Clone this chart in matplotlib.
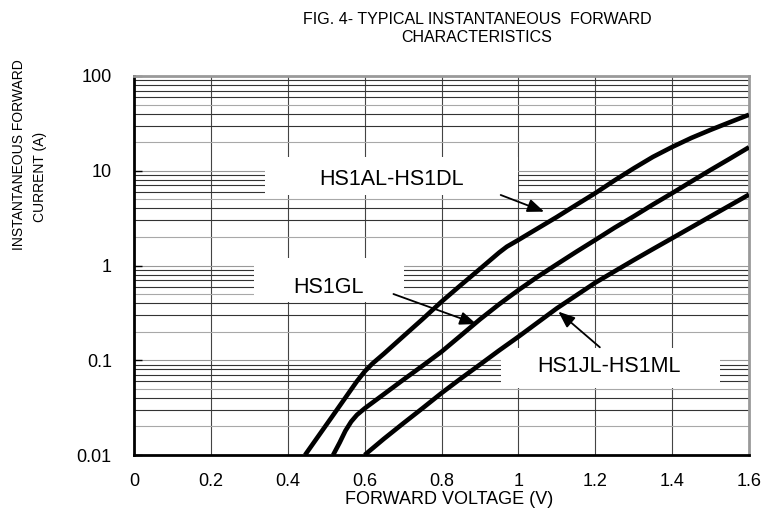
import numpy as np
import matplotlib
matplotlib.use('Agg')
import matplotlib.pyplot as plt
from matplotlib.patches import Rectangle

plt.rcParams['font.family'] = ['Liberation Sans', 'DejaVu Sans']

# Curves (forward voltage in V, current in A)
v_al = [0.445, 0.48, 0.52, 0.56, 0.58, 0.60, 0.62, 0.65, 0.70, 0.75, 0.80, 0.85, 0.90, 0.95, 0.97, 1.00, 1.03, 1.06, 1.10, 1.15, 1.20, 1.25, 1.30, 1.35, 1.40, 1.45, 1.50, 1.55, 1.60]
i_al = [0.01, 0.0159, 0.027, 0.046, 0.06, 0.076, 0.092, 0.117, 0.178, 0.27, 0.415, 0.62, 0.92, 1.37, 1.58, 1.86, 2.2, 2.6, 3.25, 4.35, 5.8, 7.9, 10.6, 14.0, 17.8, 22.2, 27.0, 32.5, 39.0]

v_gl = [0.518, 0.535, 0.55, 0.565, 0.58, 0.60, 0.65, 0.70, 0.75, 0.80, 0.85, 0.90, 0.95, 1.00, 1.05, 1.10, 1.15, 1.20, 1.25, 1.30, 1.35, 1.40, 1.45, 1.50, 1.55, 1.60]
i_gl = [0.01, 0.0135, 0.018, 0.0225, 0.0265, 0.031, 0.0438, 0.062, 0.087, 0.123, 0.182, 0.27, 0.39, 0.55, 0.76, 1.03, 1.39, 1.86, 2.5, 3.3, 4.4, 5.8, 7.7, 10.2, 13.4, 17.7]

v_jl = [0.60, 0.65, 0.70, 0.75, 0.80, 0.85, 0.90, 0.95, 1.00, 1.05, 1.10, 1.15, 1.20, 1.25, 1.30, 1.35, 1.40, 1.45, 1.50, 1.55, 1.60]
i_jl = [0.01, 0.0148, 0.0215, 0.031, 0.045, 0.064, 0.09, 0.127, 0.177, 0.25, 0.353, 0.482, 0.658, 0.867, 1.14, 1.49, 1.94, 2.53, 3.3, 4.3, 5.6]

x_ticks = [0, 0.2, 0.4, 0.6, 0.8, 1.0, 1.2, 1.4, 1.6]
x_labels = ['0', '0.2', '0.4', '0.6', '0.8', '1', '1.2', '1.4', '1.6']
y_ticks = [0.01, 0.1, 1, 10, 100]
y_labels = ['0.01', '0.1', '1', '10', '100']

fig = plt.figure(figsize=(7.76, 5.22), dpi=100)
ax = fig.add_axes([134 / 776, 67 / 522, 615 / 776, 379 / 522])
ax.set_yscale('log')
ax.set_xlim(0, 1.6)
ax.set_ylim(0.01, 100)

# grid: vertical lines every 0.2 V, horizontal minor lines per decade
for x in x_ticks[1:-1]:
    ax.axvline(x, color='#444444', lw=0.8, zorder=1)
for dec in [0.01, 0.1, 1, 10]:
    for k in range(1, 10):
        if k == 1:
            col = '#999999'
        elif k in (2, 5):
            col = '#a8a8a8'
        else:
            col = '#333333'
        ax.axhline(dec * k, color=col, lw=0.8, zorder=1)

# white label boxes hide the grid behind the text
for (x0, x1, y0, y1) in [(0.341, 1.0, 5.55, 14.0), (0.312, 0.702, 0.41, 1.2), (0.955, 1.524, 0.051, 0.135)]:
    ax.add_patch(Rectangle((x0, y0), x1 - x0, y1 - y0, facecolor='white', edgecolor='none', zorder=2))

ax.plot(v_al, i_al, color='black', lw=3.3, zorder=4, solid_capstyle='butt')
ax.plot(v_gl, i_gl, color='black', lw=3.3, zorder=4, solid_capstyle='butt')
ax.plot(v_jl, i_jl, color='black', lw=3.3, zorder=4, solid_capstyle='butt')

ax.text(0.67, 8.0, 'HS1AL-HS1DL', fontsize=15.5, ha='center', va='center', zorder=3)
ax.text(0.506, 0.58, 'HS1GL', fontsize=15.5, ha='center', va='center', zorder=3)
ax.text(1.236, 0.0855, 'HS1JL-HS1ML', fontsize=15.5, ha='center', va='center', zorder=3)

arrow = dict(arrowstyle='-|>,head_length=1.0,head_width=0.4', color='black', lw=1.3, shrinkA=0, shrinkB=0)
ax.annotate('', xy=(1.067, 3.7), xytext=(0.954, 5.55), arrowprops=arrow, zorder=5)
ax.annotate('', xy=(0.891, 0.241), xytext=(0.675, 0.50), arrowprops=arrow, zorder=5)
ax.annotate('', xy=(1.104, 0.326), xytext=(1.212, 0.137), arrowprops=arrow, zorder=5)

ax.set_xticks(x_ticks)
ax.set_xticklabels(x_labels)
ax.set_yticks(y_ticks)
ax.set_yticklabels(y_labels)
ax.yaxis.set_minor_locator(matplotlib.ticker.NullLocator())
ax.tick_params(axis='x', length=0, pad=13, labelsize=13)
ax.tick_params(axis='y', direction='in', length=6, width=1, pad=16, labelsize=13)

ax.spines['left'].set_linewidth(2)
ax.spines['bottom'].set_linewidth(2)
ax.spines['top'].set_color('#999999')
ax.spines['right'].set_color('#999999')
ax.spines['top'].set_linewidth(2)
ax.spines['right'].set_linewidth(2)

fig.text(477 / 776, 1 - 20 / 522, 'FIG. 4- TYPICAL INSTANTANEOUS  FORWARD', fontsize=11.5, ha='center', va='center')
fig.text(477 / 776, 1 - 38 / 522, 'CHARACTERISTICS', fontsize=11.5, ha='center', va='center')
fig.text(449 / 776, 1 - 499 / 522, 'FORWARD VOLTAGE (V)', fontsize=13, ha='center', va='center')
fig.text(19 / 776, 1 - 155 / 522, 'INSTANTANEOUS FORWARD', fontsize=10, ha='center', va='center', rotation=90)
fig.text(40 / 776, 1 - 177 / 522, 'CURRENT (A)', fontsize=10, ha='center', va='center', rotation=90)

fig.savefig('out.png', dpi=100)
